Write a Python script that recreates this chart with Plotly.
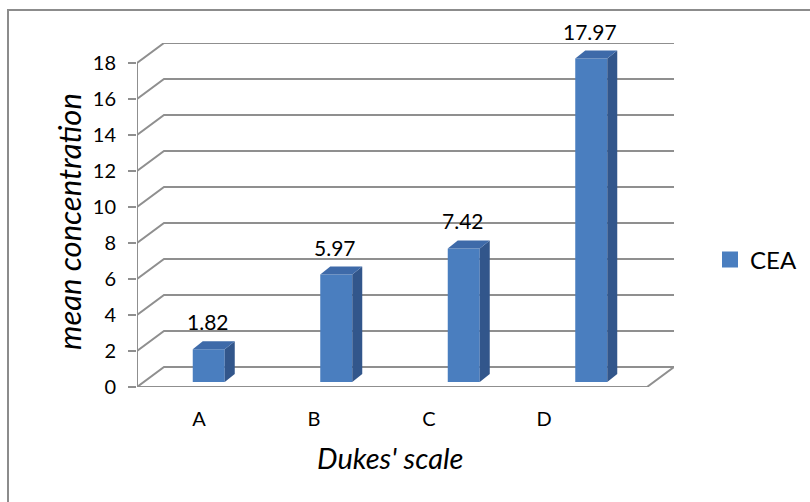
import plotly.graph_objects as go

# ---- data -------------------------------------------------------------
categories = ["A", "B", "C", "D"]
cea_values = [1.82, 5.97, 7.42, 17.97]
y_ticks = [0, 2, 4, 6, 8, 10, 12, 14, 16, 18]
series_name = "CEA"

# ---- geometry of the pseudo-3D box (pixels) ---------------------------
W, H = 810, 502
FRONT_LEFT, FRONT_RIGHT = 137, 647      # front plane, x extent
FRONT_BOTTOM, FRONT_TOP = 387, 63       # front plane, value 0 .. 18
DEPTH_X, DEPTH_Y = 27, 20               # back wall offset
BAR_SHIFT_X, BAR_SHIFT_Y = 8, 5         # bars sit a little behind the front plane
BAR_W_PX, BAR_DX_PX, BAR_DY_PX = 32, 10, 8
YMAX = 18

n = len(categories)
px_per_x = (FRONT_RIGHT - FRONT_LEFT) / n
px_per_y = (FRONT_BOTTOM - FRONT_TOP) / YMAX
dxu, dyu = DEPTH_X / px_per_x, DEPTH_Y / px_per_y
x_lo, x_hi = -0.5, n - 0.5
x_range = [x_lo, x_hi + dxu]
y_range = [0, YMAX + dyu]

bar_w = BAR_W_PX / px_per_x
bdx, bdy = BAR_DX_PX / px_per_x, BAR_DY_PX / px_per_y

GRID = "#8f8f8f"
FRONT = "#4a7ebf"
TOP = "#3e6aa9"
SIDE = "#32568b"
FONT = "Lato"

fig = go.Figure()

# back wall + side wall gridlines
gx, gy = [], []
for v in y_ticks:
    gx += [x_lo, x_lo + dxu, x_hi + dxu, None]
    gy += [v, v + dyu, v + dyu, None]
# floor front edge and right edge
gx += [x_lo, x_hi, x_hi + dxu, None]
gy += [0, 0, dyu, None]
# front vertical axis line
gx += [x_lo, x_lo]
gy += [0, YMAX]
fig.add_trace(go.Scatter(x=gx, y=gy, mode="lines", line=dict(color=GRID, width=2),
                         hoverinfo="skip", showlegend=False, xaxis="x", yaxis="y"))

# bars (front faces)
xs = list(range(n))
fig.add_trace(go.Bar(x=xs, y=cea_values, width=bar_w, marker=dict(color=FRONT, line=dict(width=0)),
                     name=series_name, showlegend=False, xaxis="x2", yaxis="y2"))

# bar tops and sides
for k, v in zip(xs, cea_values):
    l, r = k - bar_w / 2, k + bar_w / 2
    fig.add_trace(go.Scatter(x=[r, r + bdx, r + bdx, r, r], y=[0, bdy, v + bdy, v, 0],
                             fill="toself", fillcolor=SIDE, mode="lines", line=dict(width=0, color=SIDE),
                             hoverinfo="skip", showlegend=False, xaxis="x2", yaxis="y2"))
    fig.add_trace(go.Scatter(x=[l, l + bdx, r + bdx, r, l], y=[v, v + bdy, v + bdy, v, v],
                             fill="toself", fillcolor=TOP, mode="lines", line=dict(width=0, color=TOP),
                             hoverinfo="skip", showlegend=False, xaxis="x2", yaxis="y2"))
    fig.add_annotation(x=k, y=v, xref="x2", yref="y2", text=f"{v:.2f}", showarrow=False,
                       yanchor="bottom", yshift=13, xshift=-1,
                       font=dict(family=FONT, size=21, color="#000"))

# legend entry
fig.add_trace(go.Scatter(x=[None], y=[None], mode="markers", name=series_name,
                         marker=dict(symbol="square", size=17, color=FRONT),
                         xaxis="x", yaxis="y"))

# category label axis carrier
fig.add_trace(go.Scatter(x=xs, y=[None] * n, mode="markers", showlegend=False,
                         hoverinfo="skip", xaxis="x3", yaxis="y"))


def fx(p):
    return p / W


def fy(p):
    return 1 - p / H


fig.update_layout(
    width=W, height=H,
    margin=dict(l=0, r=0, t=0, b=0, pad=0, autoexpand=False),
    paper_bgcolor="white", plot_bgcolor="rgba(0,0,0,0)",
    showlegend=True,
    legend=dict(x=fx(710), y=fy(260), xanchor="left", yanchor="middle", itemwidth=30,
                font=dict(family=FONT, size=24, color="#000"), bgcolor="rgba(0,0,0,0)"),
    xaxis=dict(domain=[fx(FRONT_LEFT), fx(FRONT_RIGHT + DEPTH_X)], range=x_range,
               visible=False, fixedrange=True, automargin=False),
    yaxis=dict(domain=[fy(FRONT_BOTTOM), fy(FRONT_TOP - DEPTH_Y)], range=y_range,
               tickvals=y_ticks, ticktext=[str(t) for t in y_ticks],
               ticks="outside", ticklen=8, tickwidth=2, tickcolor=GRID, ticklabelstandoff=8,
               showgrid=False, zeroline=False, showline=False, automargin=False,
               tickfont=dict(family=FONT, size=20, color="#000"), fixedrange=True),
    xaxis2=dict(domain=[fx(FRONT_LEFT + BAR_SHIFT_X), fx(FRONT_RIGHT + DEPTH_X + BAR_SHIFT_X)],
                range=x_range, anchor="y2", visible=False, fixedrange=True, automargin=False),
    yaxis2=dict(domain=[fy(FRONT_BOTTOM - BAR_SHIFT_Y), fy(FRONT_TOP - DEPTH_Y - BAR_SHIFT_Y)],
                range=y_range, anchor="x2", visible=False, fixedrange=True, automargin=False),
    xaxis3=dict(domain=[fx(141.5), fx(601.5)], range=[x_lo, x_hi], anchor="y",
                tickvals=xs, ticktext=categories, ticks="outside", ticklen=14,
                tickcolor="rgba(0,0,0,0)", showgrid=False, zeroline=False, showline=False,
                automargin=False,
                tickfont=dict(family=FONT, size=20, color="#000"), fixedrange=True),
    shapes=[dict(type="rect", xref="paper", yref="paper", x0=fx(8), y0=-0.1, x1=1.1, y1=fy(10),
                 line=dict(color="#8c8c8c", width=2), fillcolor="rgba(0,0,0,0)", layer="below")],
    annotations=list(fig.layout.annotations) + [
        dict(x=fx(390), y=fy(457), xref="paper", yref="paper", text="<i>Dukes' scale</i>",
             showarrow=False, xanchor="center", yanchor="middle",
             font=dict(family=FONT, size=29, color="#000")),
        dict(x=fx(69), y=fy(222), xref="paper", yref="paper", text="<i>mean concentration</i>",
             showarrow=False, textangle=-90, xanchor="center", yanchor="middle",
             font=dict(family=FONT, size=31, color="#000")),
    ],
)

fig.write_html("out.html")
